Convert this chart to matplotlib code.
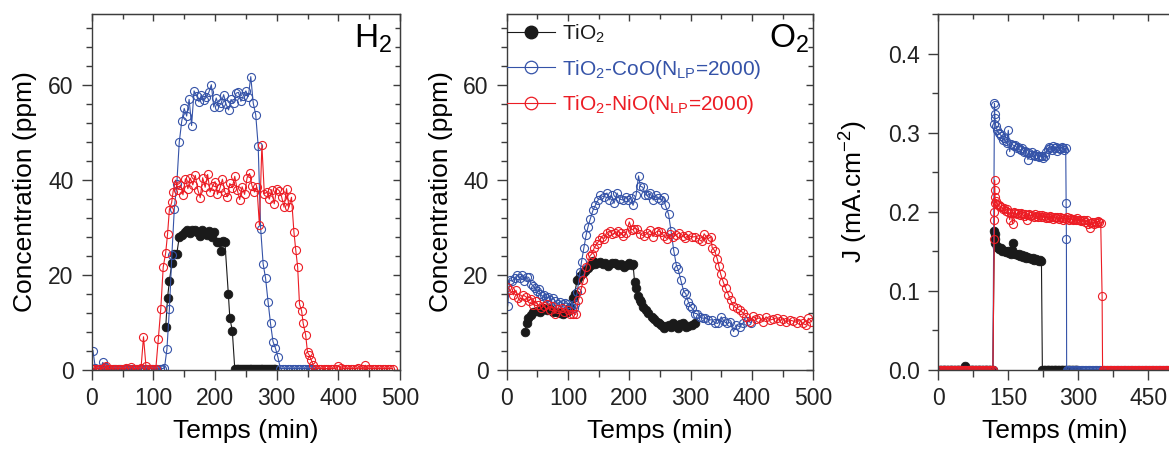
import numpy as np
import matplotlib
matplotlib.use("Agg")
import matplotlib.pyplot as plt
from matplotlib.ticker import MultipleLocator, FormatStrFormatter
from matplotlib.lines import Line2D

plt.rcParams["font.family"] = ["Liberation Sans", "DejaVu Sans"]
plt.rcParams["mathtext.fontset"] = "custom"
plt.rcParams["mathtext.rm"] = "Liberation Sans"
plt.rcParams["mathtext.default"] = "regular"

BLACK = "#1a1a1a"
BLUE = "#3553a8"
RED = "#ec1c24"
AXC = "#3c3c3c"

labels = ["TiO$_2$", "TiO$_2$-CoO(N$_{LP}$=2000)", "TiO$_2$-NiO(N$_{LP}$=2000)"]

# ---------------- H2 (ppm) ----------------
h2_tio2_t = np.r_[[120, 123, 126, 130, 133.5, 138, 142, 146, 151, 155, 159, 163, 167, 171, 175,
                   179, 183, 187, 191, 195, 199, 203, 206, 210, 213, 216, 221.6, 224, 228, 232],
                  np.arange(235, 301, 3)]
h2_tio2_c = [9.0, 15.2, 18.8, 22.5, 24.5, 24.5, 28.0, 28.5, 29.0, 29.5, 28.8, 29.5, 29.5, 29.0, 28.3,
             29.5, 29.0, 28.5, 29.2, 28.0, 29.0, 27.0, 27.0, 25.0, 27.2, 27.0, 16.0, 11.0, 8.3, 0.3] + [0.3] * 22

h2_coo_t = np.r_[np.arange(2, 119, 4), np.arange(122, 303, 4), np.arange(306, 363, 4)]
h2_coo_c = ([4.1, 0.4, 0.3, 0.3, 1.6, 0.6, 0.3, 0.3, 0.3, 0.3, 0.3, 0.3, 0.3, 0.3, 0.3,
             0.3, 0.3, 0.3, 0.3, 0.3, 0.3, 0.3, 0.3, 0.3, 0.3, 0.3, 0.3, 0.3, 0.3, 0.4]
            + [4.4, 12.8, 24.2, 34.0, 39.2, 48.0, 52.4, 55.1, 53.5, 57.0, 51.5, 58.8, 57.8, 56.5,
               58.0, 56.8, 57.5, 58.5, 60.1, 55.4, 57.3, 55.5, 56.2, 58.0, 56.0, 54.8, 57.0, 56.2,
               58.3, 58.5, 56.6, 57.8, 58.8, 57.6, 61.8, 56.2, 53.8, 47.2, 29.8, 22.4, 19.3, 14.4,
               9.8, 6.0, 4.6, 2.7]
            + [0.3] * 15)

h2_nio_t = np.r_[np.arange(0, 109, 4), [112, 116, 120, 123, 126, 129.7], np.arange(132, 329, 4),
                 [331, 334, 337, 340.5, 343, 347, 350, 353, 355.7, 359.5], np.arange(364, 489, 4)]
h2_nio_c = ([0.3, 0.3, 0.2, 0.3, 0.3, 0.5, 0.9, 0.3, 0.3, 0.2, 0.3, 0.3, 0.3, 0.2, 0.5, 0.3,
             0.6, 0.3, 0.3, 0.2, 0.4, 7.0, 0.8, 0.3, 0.3, 0.2, 0.3, 6.5]
            + [12.8, 21.7, 24.7, 28.6, 33.8, 35.3]
            + [37.6, 40.0, 38.0, 39.0, 36.9, 40.3, 38.2, 40.4, 39.0, 41.0,
               38.0, 36.3, 40.5, 38.5, 41.2, 37.5, 38.7, 39.7, 37.0, 38.3,
               40.2, 37.5, 36.5, 39.3, 38.4, 40.8, 38.0, 35.9, 38.6, 37.0,
               40.5, 41.4, 38.8, 37.5, 38.5, 30.5, 47.4, 37.1, 37.5, 36.0,
               38.0, 35.0, 38.2, 37.8, 36.5, 34.3, 38.2, 34.3, 36.4, 29.0]
            + [25.2, 21.7, 13.9, 12.4, 9.8, 7.4, 3.7, 3.1, 2.2, 1.0]
            + [0.3, 0.3, 0.3, 0.3, 0.3, 0.3, 0.3, 0.3, 0.3, 0.8, 0.5, 0.3, 0.3, 0.3, 0.3, 0.3,
               0.3, 0.4, 0.3, 0.3, 1.0, 0.3, 0.3, 0.3, 0.3, 0.3, 0.3, 0.3, 0.3, 0.3, 0.3, 0.3])

# ---------------- O2 (ppm) ----------------
o2_tio2_t = [30, 32.6, 35.3, 39, 43.4, 48.8, 54.2, 60, 65, 71, 76, 82, 87, 92.5, 98, 104, 108, 111,
             114.6, 119, 124, 128, 133, 137, 140, 144, 148, 152, 157, 161, 166, 171, 176, 181, 186,
             192, 196, 200, 204, 206, 208.6, 211.5, 214, 217, 219.6, 223, 227, 231, 237, 241, 245,
             249, 252, 256, 260, 264, 268, 271, 275, 279, 283, 288, 292, 296, 302, 307.7]
o2_tio2_c = [8.1, 9.8, 10.9, 11.6, 12.3, 12.5, 12.3, 13.0, 12.7, 12.8, 12.3, 12.3, 12.0, 11.8, 12.3,
             13.3, 15.1, 16.1, 18.9, 19.8, 20.4, 20.9, 21.4, 22.1, 23.0, 22.3, 22.5, 22.8, 22.3, 22.6,
             22.0, 22.6, 22.5, 22.1, 22.4, 21.7, 22.2, 22.5, 22.1, 22.3, 18.5, 17.2, 15.5, 14.7, 14.4,
             13.2, 12.6, 12.0, 11.2, 10.8, 10.2, 9.8, 9.5, 8.8, 9.2, 9.5, 9.0, 9.8, 9.5, 8.9, 9.6,
             9.8, 9.0, 9.3, 9.5, 9.8]

o2_coo_t = [1.6, 5, 9, 13, 17, 21, 25, 29, 33, 36, 39.5, 43, 46, 49, 52, 55, 58, 61, 64, 68, 71,
            75, 79, 83, 87, 91, 95, 100, 105, 109, 112, 115, 119.6, 122, 125.7, 129.5, 132.7, 136.5,
            140.8, 144.6, 149, 152.7, 158, 163.5, 167, 171, 175, 180, 184, 190, 194, 198, 202, 206,
            211, 215, 218, 222, 226, 230, 234, 239, 243, 247, 252, 256, 258.5, 264, 268, 272.5,
            276.8, 279.6, 284, 288.8, 292, 296, 299, 302.5, 307, 310, 315, 320, 324, 329, 334,
            339, 344, 350, 354, 359, 364, 370, 374, 380, 386, 392, 398]
o2_coo_c = [13.5, 19.0, 18.7, 19.3, 20.0, 19.3, 20.0, 18.8, 19.6, 19.5, 18.1, 17.8, 17.2, 16.7, 17.0,
            16.1, 15.5, 15.9, 15.1, 15.4, 14.7, 15.1, 14.6, 14.0, 14.4, 14.0, 14.1, 14.0, 13.3, 13.0,
            14.0, 16.4, 20.7, 22.8, 25.6, 28.4, 30.2, 31.9, 33.7, 34.7, 35.8, 36.8, 36.5, 37.3, 35.8,
            36.8, 35.1, 37.3, 36.0, 35.8, 36.5, 35.9, 36.3, 34.7, 36.8, 40.9, 38.7, 38.5, 36.9, 36.8,
            37.2, 35.8, 36.9, 36.2, 35.8, 36.5, 34.8, 32.8, 29.3, 25.1, 22.0, 21.2, 18.9, 16.5, 16.1,
            14.4, 13.5, 13.0, 11.9, 11.9, 11.2, 10.9, 11.0, 10.5, 10.6, 10.0, 9.8, 11.2, 10.3, 9.8,
            10.1, 8.1, 9.5, 9.1, 10.0, 10.4, 10.0]

o2_nio_t = [1, 5.5, 11, 15, 19, 23, 27, 31.5, 36, 40, 43, 47, 51, 56.6, 61, 66, 70, 74, 78.6, 83,
            89.4, 94, 100, 104, 108.6, 112.5, 117, 121, 125, 130, 135.5, 139, 143, 147, 151, 155,
            159, 163, 168, 172, 176, 181, 186, 190, 195, 200, 204, 208, 213, 218, 224, 229, 234,
            238.6, 243, 247, 252, 256.6, 261, 266, 271.7, 276, 281, 287, 291, 296, 302, 307.7, 313,
            318, 322, 328, 333, 335, 339.3, 343.6, 346, 349, 353, 357, 361.5, 365, 369.6, 375, 380,
            386, 391, 396, 402, 407, 412, 418, 423, 429, 434, 440, 445, 451, 456, 462, 467.7, 473,
            478, 483, 488, 492, 497]
o2_nio_c = [17.4, 16.8, 15.8, 16.8, 15.1, 14.4, 15.8, 15.4, 14.6, 15.0, 13.7, 14.6, 13.7, 13.0, 13.5,
            14.0, 12.6, 13.4, 11.9, 12.9, 13.0, 12.3, 12.6, 11.9, 11.9, 11.7, 14.7, 16.8, 18.9, 21.8,
            24.0, 24.5, 25.8, 26.6, 27.3, 28.0, 27.7, 28.9, 29.3, 28.6, 28.8, 29.2, 28.9, 28.2, 28.9,
            31.2, 29.5, 29.8, 29.7, 28.6, 28.2, 28.8, 29.4, 28.1, 29.0, 29.3, 29.0, 28.2, 27.7, 28.6,
            28.1, 28.4, 28.9, 28.3, 27.8, 28.4, 28.0, 28.1, 27.6, 27.1, 28.7, 27.6, 28.1, 25.8, 25.1,
            23.3, 21.9, 20.2, 18.6, 17.2, 15.9, 14.8, 13.5, 13.0, 12.6, 12.0, 11.2, 10.2, 11.3, 10.7,
            11.0, 10.2, 11.2, 10.5, 10.7, 11.0, 10.4, 10.8, 10.1, 10.5, 10.3, 10.0, 10.6, 9.8, 9.5,
            10.9, 10.2]

# ---------------- J (mA.cm-2) ----------------
j_tio2_t = np.r_[np.arange(0, 120, 3), [120, 120.5, 121, 122], np.arange(125, 222, 3),
                 np.arange(223, 301, 3)]
j_tio2_v = ([0.0] * 19 + [0.005] + [0.0] * 20
            + [0.176, 0.172, 0.165, 0.160]
            + [0.156, 0.155, 0.153, 0.154, 0.151, 0.150, 0.151, 0.149, 0.150, 0.148, 0.147,
               0.152, 0.160, 0.147, 0.146, 0.145, 0.146, 0.144, 0.145, 0.143, 0.144, 0.142,
               0.143, 0.141, 0.142, 0.140, 0.141, 0.139, 0.140, 0.139, 0.138, 0.139, 0.138]
            + [0.0] * 26)

j_coo_t = np.r_[np.arange(0, 120, 3), [120, 120.3, 120.6, 121, 121.5], np.arange(123, 274, 3),
                [274, 274.5], np.arange(275, 501, 3)]
j_coo_v = ([0.0] * 40
           + [0.311, 0.337, 0.335, 0.324, 0.318]
           + [0.309, 0.303, 0.300, 0.298, 0.296, 0.291, 0.293, 0.289, 0.287, 0.303,
              0.276, 0.286, 0.285, 0.283, 0.284, 0.281, 0.282, 0.279, 0.278, 0.280,
              0.276, 0.277, 0.276, 0.266, 0.274, 0.272, 0.275, 0.272, 0.271, 0.273,
              0.270, 0.269, 0.271, 0.270, 0.268, 0.270, 0.275, 0.279, 0.282, 0.281,
              0.278, 0.283, 0.280, 0.282, 0.277, 0.281, 0.279, 0.282, 0.280, 0.278, 0.281]
           + [0.211, 0.166]
           + [0.0] * 76)

j_nio_t = np.r_[np.arange(0, 120, 3), [120, 120.2, 120.4, 120.6, 121, 121.5, 122],
                np.arange(123, 349, 3), [351], np.arange(352, 501, 3)]
j_nio_v = ([0.0] * 40
           + [0.166, 0.189, 0.200, 0.240, 0.227, 0.219, 0.211]
           + [0.214, 0.210, 0.208, 0.207, 0.206, 0.204, 0.205, 0.201, 0.203, 0.200,
              0.190, 0.199, 0.185, 0.200, 0.199, 0.197, 0.198, 0.196, 0.199, 0.197,
              0.195, 0.197, 0.189, 0.196, 0.197, 0.195, 0.196, 0.194, 0.197, 0.195,
              0.193, 0.196, 0.194, 0.196, 0.193, 0.195, 0.192, 0.194, 0.192, 0.195,
              0.193, 0.191, 0.193, 0.192, 0.194, 0.191, 0.193, 0.192, 0.190, 0.192,
              0.191, 0.193, 0.190, 0.192, 0.191, 0.189, 0.191, 0.190, 0.192, 0.189,
              0.190, 0.188, 0.190, 0.189, 0.187, 0.189, 0.185, 0.180, 0.186, 0.187,
              0.185, 0.187, 0.186, 0.188, 0.187, 0.186]
           + [0.093]
           + [0.0] * 50)


W, H = 1169, 453
fig = plt.figure(figsize=(W / 100, H / 100), dpi=100)


def make_ax(left, right, top=14, bottom=370):
    return fig.add_axes([left / W, 1 - bottom / H, (right - left) / W, (bottom - top) / H])


def style(ax, xmaj, xmin, ymaj, ymin, right_spine=True):
    for s in ax.spines.values():
        s.set_color(AXC)
        s.set_linewidth(1.0)
    ax.xaxis.set_major_locator(MultipleLocator(xmaj))
    ax.xaxis.set_minor_locator(MultipleLocator(xmin))
    ax.yaxis.set_major_locator(MultipleLocator(ymaj))
    ax.yaxis.set_minor_locator(MultipleLocator(ymin))
    ax.tick_params(which="both", direction="out", top=False, right=False,
                   color=AXC, labelsize=16.5, labelcolor="#222222", width=1.0)
    ax.tick_params(axis="x", which="major", length=7, pad=5)
    ax.tick_params(axis="x", which="minor", length=5)
    ax.tick_params(axis="y", which="major", length=7, pad=6)
    ax.tick_params(axis="y", which="minor", length=4.5)
    # inward ticks on the top (and right) edge
    tx = ax.secondary_xaxis("top")
    tx.xaxis.set_major_locator(MultipleLocator(xmaj))
    tx.xaxis.set_minor_locator(MultipleLocator(xmin))
    tx.tick_params(which="both", direction="in", labeltop=False, color=AXC, width=1.0)
    tx.tick_params(which="major", length=5)
    tx.tick_params(which="minor", length=3.5)
    tx.spines["top"].set_color(AXC)
    if right_spine:
        ty = ax.secondary_yaxis("right")
        ty.yaxis.set_major_locator(MultipleLocator(ymaj))
        ty.yaxis.set_minor_locator(MultipleLocator(ymin))
        ty.tick_params(which="both", direction="in", labelright=False, color=AXC, width=1.0)
        ty.tick_params(which="major", length=5)
        ty.tick_params(which="minor", length=3.5)
        ty.spines["right"].set_color(AXC)


def draw(ax, t, y, kind, ms=5.8):
    if kind == 0:
        ax.plot(t, y, "-o", color=BLACK, lw=0.8, ms=ms + 0.4, mfc=BLACK, mec=BLACK, mew=0.6)
    elif kind == 1:
        ax.plot(t, y, "-o", color=BLUE, lw=0.8, ms=ms, mfc="none", mec=BLUE, mew=0.8)
    else:
        ax.plot(t, y, "-o", color=RED, lw=0.8, ms=ms, mfc="none", mec=RED, mew=0.8)


# H2 panel
ax1 = make_ax(91.7, 400)
draw(ax1, h2_tio2_t, h2_tio2_c, 0)
draw(ax1, h2_coo_t, h2_coo_c, 1)
draw(ax1, h2_nio_t, h2_nio_c, 2)
ax1.set_xlim(0, 500)
ax1.set_ylim(0, 75)
style(ax1, 100, 50, 20, 4)
ax1.set_xlabel("Temps (min)", fontsize=19, labelpad=7)
ax1.set_ylabel("Concentration (ppm)", fontsize=19, labelpad=8)
ax1.text(0.975, 0.975, "H$_2$", transform=ax1.transAxes, ha="right", va="top", fontsize=24)

# O2 panel
ax2 = make_ax(506.7, 813.3)
draw(ax2, o2_tio2_t, o2_tio2_c, 0)
draw(ax2, o2_coo_t, o2_coo_c, 1)
draw(ax2, o2_nio_t, o2_nio_c, 2)
ax2.set_xlim(0, 500)
ax2.set_ylim(0, 75)
style(ax2, 100, 50, 20, 4)
ax2.set_xlabel("Temps (min)", fontsize=19, labelpad=7)
ax2.set_ylabel("Concentration (ppm)", fontsize=19, labelpad=7)
ax2.text(0.985, 0.975, "O$_2$", transform=ax2.transAxes, ha="right", va="top", fontsize=24)

handles = [
    Line2D([], [], color=BLACK, lw=0.8, marker="o", ms=9, mfc=BLACK, mec=BLACK),
    Line2D([], [], color=BLUE, lw=0.8, marker="o", ms=9, mfc="none", mec=BLUE, mew=0.9),
    Line2D([], [], color=RED, lw=0.8, marker="o", ms=9, mfc="none", mec=RED, mew=0.9),
]
leg = ax2.legend(handles, labels, loc="upper left", bbox_to_anchor=(-0.02, 0.993), frameon=False,
                 fontsize=15, handlelength=2.3, handletextpad=0.35, labelspacing=0.6,
                 borderpad=0.3, borderaxespad=0.0)
for txt, c in zip(leg.get_texts(), [BLACK, BLUE, RED]):
    txt.set_color(c)

# J panel (right edge runs off the figure)
ax3 = make_ax(938.3, 938.3 + 500 * 0.4667)
draw(ax3, j_tio2_t, j_tio2_v, 0)
draw(ax3, j_coo_t, j_coo_v, 1)
draw(ax3, j_nio_t, j_nio_v, 2)
ax3.set_xlim(0, 500)
ax3.set_ylim(0, 0.45)
style(ax3, 150, 75, 0.1, 0.05, right_spine=False)
ax3.yaxis.set_major_formatter(FormatStrFormatter("%.1f"))
ax3.set_xlabel("Temps (min)", fontsize=19, labelpad=7)
ax3.set_ylabel("J (mA.cm$^{-2}$)", fontsize=19, labelpad=13)

fig.savefig("out.png", dpi=100)
